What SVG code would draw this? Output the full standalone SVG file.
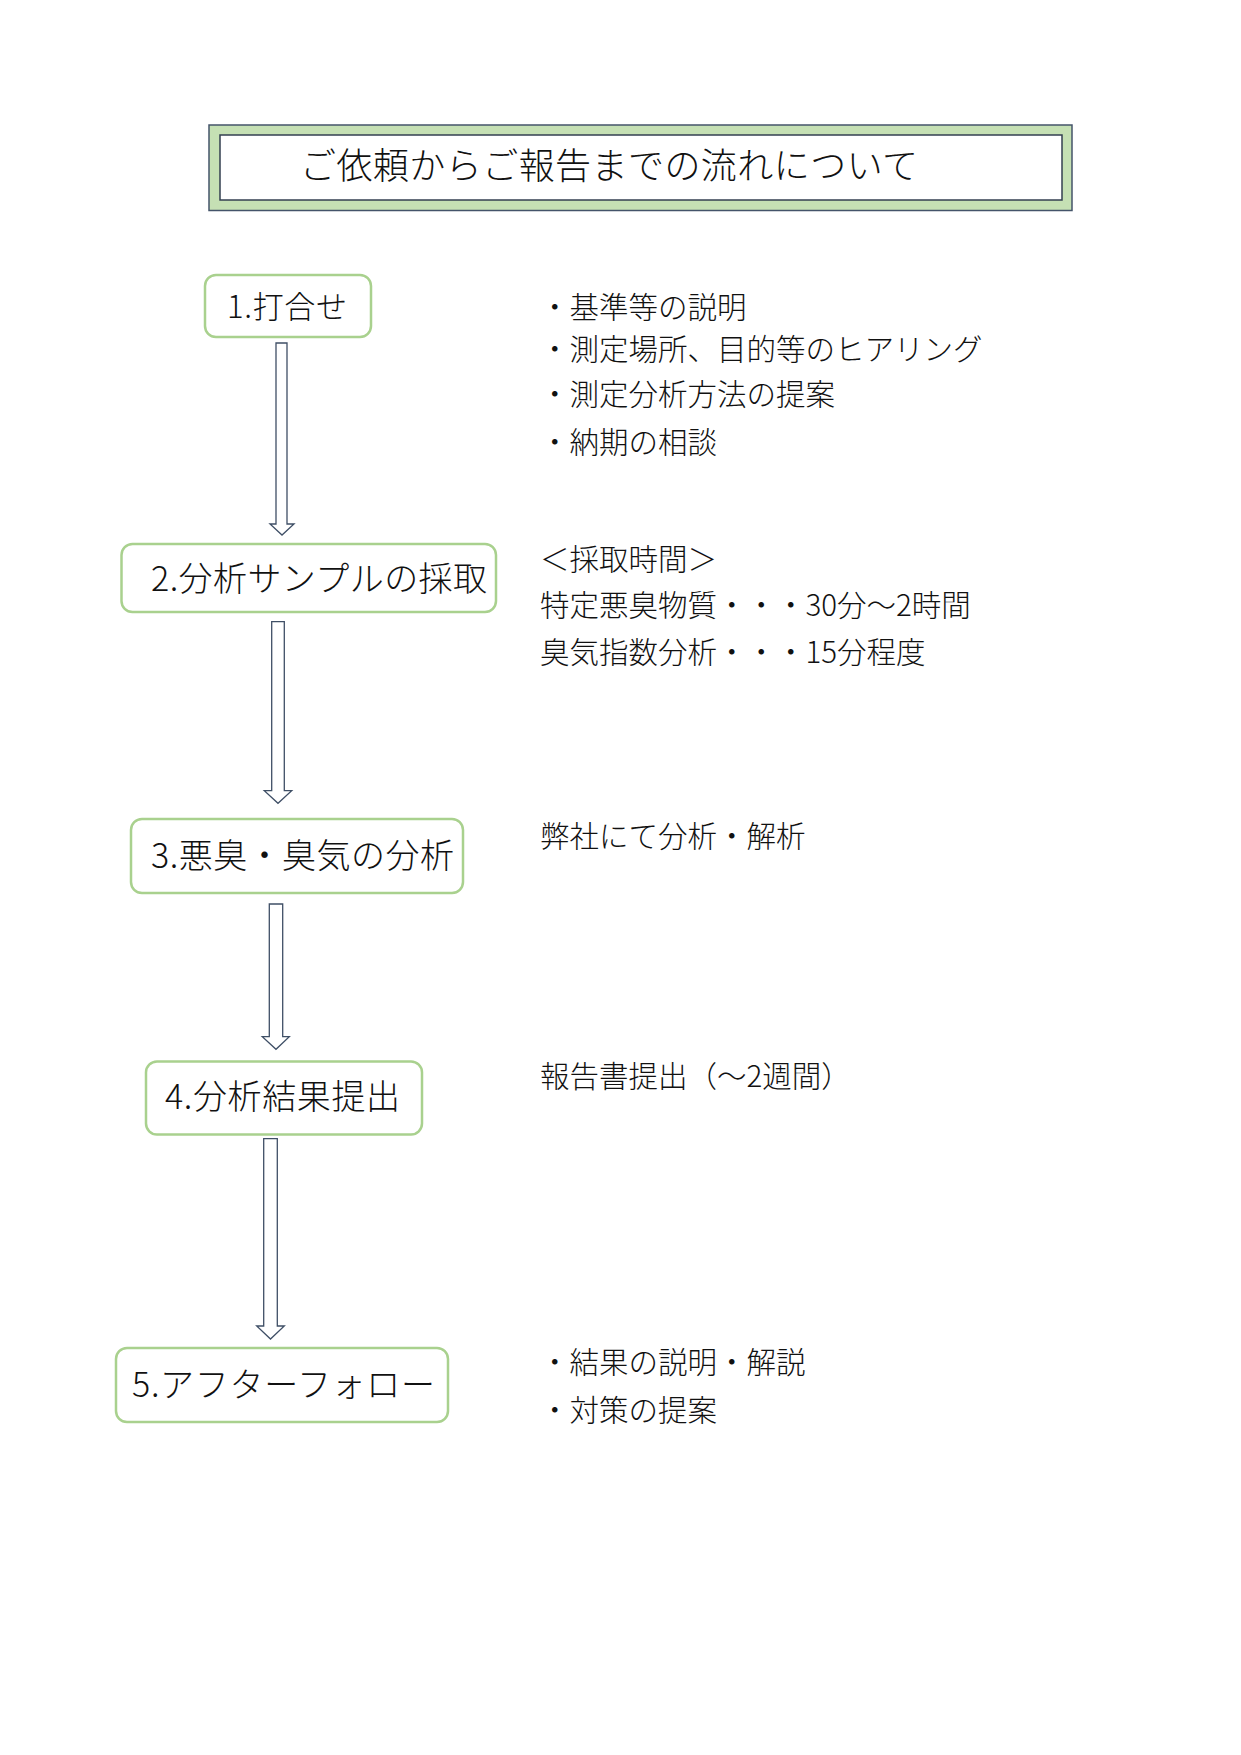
<svg xmlns="http://www.w3.org/2000/svg" width="1241" height="1755" viewBox="0 0 1241 1755">
  <style>
    .t { font-family: "Noto Sans CJK JP", "Noto Sans", sans-serif; font-weight: 300; fill: #111; }
    .side { font-size: 29.5px; }
    .node rect { fill: #ffffff; stroke: #a9d18e; stroke-width: 2.5; }
    .arrow { fill: #ffffff; stroke: #3f4f66; stroke-width: 1.3; stroke-linejoin: miter; }
  </style>
  <rect x="0" y="0" width="1241" height="1755" fill="#ffffff"/>

  <g id="title">
    <rect x="209" y="125" width="863" height="85.5" fill="#c5e0b4" stroke="#44546a" stroke-width="1.5"/>
    <rect x="220" y="135" width="842" height="65" fill="#ffffff" stroke="#333f50" stroke-width="1.5"/>
    <text class="t" x="300" y="179" font-size="36" textLength="618" lengthAdjust="spacing">ご依頼からご報告までの流れについて</text>
  </g>

  <g id="connectors">
    <path class="arrow" d="M276,343 H287 V524 H294 L282,535 L270,524 H276 Z"/>
    <path class="arrow" d="M271.7,621.7 H284.3 V790.7 H291.7 L278,803.3 L264.3,790.7 H271.7 Z"/>
    <path class="arrow" d="M269.3,904 H282.7 V1036.7 H289.3 L276,1049.3 L262.3,1036.7 H269.3 Z"/>
    <path class="arrow" d="M263.7,1138.7 H277.3 V1326 H284.3 L270.5,1339 L256.7,1326 H263.7 Z"/>
  </g>

  <g id="node1" class="node">
    <rect x="205" y="275" width="166" height="62" rx="11"/>
    <text class="t" x="227" y="318" font-size="31" textLength="120" lengthAdjust="spacing">1.打合せ</text>
  </g>
  <g id="node2" class="node">
    <rect x="121.5" y="544" width="374.5" height="68" rx="11"/>
    <text class="t" x="151" y="591" font-size="34" textLength="336" lengthAdjust="spacing">2.分析サンプルの採取</text>
  </g>
  <g id="node3" class="node">
    <rect x="131" y="819" width="332" height="74" rx="11"/>
    <text class="t" x="151" y="868" font-size="34" textLength="303" lengthAdjust="spacing">3.悪臭・臭気の分析</text>
  </g>
  <g id="node4" class="node">
    <rect x="146" y="1061.5" width="276" height="73" rx="11"/>
    <text class="t" x="165" y="1109" font-size="34" textLength="235" lengthAdjust="spacing">4.分析結果提出</text>
  </g>
  <g id="node5" class="node">
    <rect x="116" y="1348" width="332" height="74" rx="11"/>
    <text class="t" x="132" y="1397" font-size="34" textLength="303" lengthAdjust="spacing">5.アフターフォロー</text>
  </g>

  <g id="notes1">
    <text class="t side" x="540" y="318">・基準等の説明</text>
    <text class="t side" x="540" y="360">・測定場所、目的等のヒアリング</text>
    <text class="t side" x="540" y="405">・測定分析方法の提案</text>
    <text class="t side" x="540" y="453">・納期の相談</text>
  </g>
  <g id="notes2">
    <text class="t side" x="540" y="570">＜採取時間＞</text>
    <text class="t side" x="540" y="616">特定悪臭物質・・・30分～2時間</text>
    <text class="t side" x="540" y="663">臭気指数分析・・・15分程度</text>
  </g>
  <g id="notes3">
    <text class="t side" x="540" y="847">弊社にて分析・解析</text>
  </g>
  <g id="notes4">
    <text class="t side" x="540" y="1087">報告書提出（～2週間）</text>
  </g>
  <g id="notes5">
    <text class="t side" x="540" y="1373">・結果の説明・解説</text>
    <text class="t side" x="540" y="1421">・対策の提案</text>
  </g>
</svg>
